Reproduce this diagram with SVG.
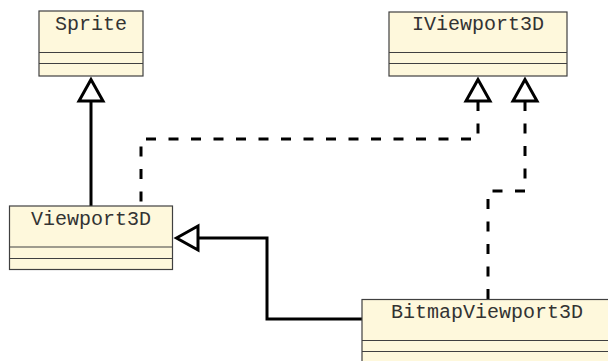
<svg xmlns="http://www.w3.org/2000/svg" width="608" height="361" viewBox="0 0 608 361">
  <style>
    .box { fill: #fef8dc; stroke: #404040; stroke-width: 1.2; }
    .div { stroke: #404040; stroke-width: 1.2; }
    .name { font-family: "Liberation Mono", "Courier New", monospace; font-size: 20px; fill: #333; text-anchor: middle; }
    .edge { fill: none; stroke: #000; stroke-width: 3; }
    .dash { stroke-dasharray: 10 12.5; }
    .head { fill: #fff; stroke: #000; stroke-width: 3; stroke-linejoin: miter; }
  </style>
  <rect width="608" height="361" fill="#fff"/>

  <g id="connectors">
    <!-- Viewport3D extends Sprite -->
    <path class="edge" d="M91,101 V206"/>
    <polygon class="head" points="91,79.5 79,101 103,101"/>
    <!-- Viewport3D implements IViewport3D -->
    <path class="edge dash" d="M478,101 V139 H141 V206"/>
    <polygon class="head" points="478,79.5 466,101 490,101"/>
    <!-- BitmapViewport3D implements IViewport3D -->
    <path class="edge dash" d="M525,101 V191 H488 V299"/>
    <polygon class="head" points="525,79.5 513,101 537,101"/>
    <!-- BitmapViewport3D extends Viewport3D -->
    <path class="edge" d="M198,238 H267 V319 H362"/>
    <polygon class="head" points="176.5,238 198,226 198,250"/>
  </g>

  <g id="sprite">
    <rect class="box" x="39" y="11" width="104" height="65"/>
    <line class="div" x1="39" y1="52.5" x2="143" y2="52.5"/>
    <line class="div" x1="39" y1="63.5" x2="143" y2="63.5"/>
    <text class="name" x="91" y="30">Sprite</text>
  </g>

  <g id="iviewport3d">
    <rect class="box" x="389" y="12" width="178" height="64"/>
    <line class="div" x1="389" y1="52.5" x2="567" y2="52.5"/>
    <line class="div" x1="389" y1="63.5" x2="567" y2="63.5"/>
    <text class="name" x="478" y="30">IViewport3D</text>
  </g>

  <g id="viewport3d">
    <rect class="box" x="9.5" y="206" width="163" height="63.5"/>
    <line class="div" x1="9.5" y1="247" x2="172.5" y2="247"/>
    <line class="div" x1="9.5" y1="258.5" x2="172.5" y2="258.5"/>
    <text class="name" x="91" y="225">Viewport3D</text>
  </g>

  <g id="bitmapviewport3d">
    <rect class="box" x="362" y="299.5" width="250" height="64"/>
    <line class="div" x1="362" y1="340.5" x2="612" y2="340.5"/>
    <line class="div" x1="362" y1="351.5" x2="612" y2="351.5"/>
    <text class="name" x="487" y="317.5">BitmapViewport3D</text>
  </g>
</svg>
